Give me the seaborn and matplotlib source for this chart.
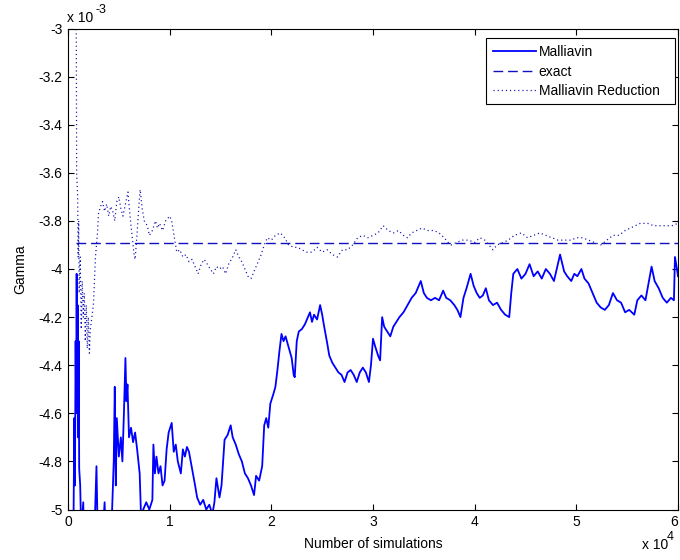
import matplotlib
matplotlib.use("Agg")
import matplotlib.pyplot as plt
from matplotlib.ticker import FuncFormatter
from matplotlib.patches import Rectangle
import seaborn as sns
import numpy as np

# ---------------- data (x in units of 1e4 simulations, y in units of 1e-3) -------------
mall_x = [0.01, 0.05, 0.062, 0.068, 0.075, 0.08, 0.085, 0.09, 0.095, 0.10, 0.105, 0.11, 0.12, 0.13,
          0.15, 0.16, 0.20, 0.26, 0.28, 0.29, 0.33, 0.36, 0.37, 0.43, 0.45, 0.46, 0.47, 0.48, 0.50,
          0.52, 0.535, 0.55, 0.565, 0.575, 0.585, 0.60, 0.62, 0.64, 0.66, 0.68, 0.705, 0.72, 0.74,
          0.77, 0.80, 0.83, 0.84, 0.855, 0.87, 0.89, 0.91, 0.93, 0.95, 0.97, 0.99, 1.02, 1.04, 1.06,
          1.08, 1.11, 1.13, 1.15, 1.17, 1.19, 1.22, 1.25, 1.27, 1.30, 1.33, 1.36, 1.39, 1.42, 1.44,
          1.46, 1.49, 1.51, 1.54, 1.57, 1.60, 1.62, 1.65, 1.68, 1.71, 1.74, 1.77, 1.80, 1.83, 1.85,
          1.88, 1.91, 1.93, 1.95, 1.97, 1.99, 2.02, 2.04, 2.06, 2.08, 2.10, 2.12, 2.14, 2.16, 2.18,
          2.20, 2.22, 2.23, 2.25, 2.27, 2.30, 2.33, 2.36, 2.38, 2.40, 2.42, 2.45, 2.48, 2.50, 2.52,
          2.55, 2.57, 2.60, 2.63, 2.66, 2.69, 2.72, 2.75, 2.78, 2.81, 2.84, 2.87, 2.90, 2.93, 2.96,
          2.98, 3.00, 3.02, 3.05, 3.07, 3.09, 3.11, 3.14, 3.17, 3.20, 3.23, 3.26, 3.30, 3.34, 3.38,
          3.42, 3.47, 3.50, 3.53, 3.57, 3.61, 3.65, 3.69, 3.72, 3.76, 3.80, 3.83, 3.86, 3.89, 3.92,
          3.96, 3.99, 4.02, 4.05, 4.08, 4.11, 4.14, 4.18, 4.22, 4.26, 4.30, 4.34, 4.36, 4.38, 4.42,
          4.46, 4.50, 4.54, 4.58, 4.62, 4.66, 4.70, 4.74, 4.78, 4.84, 4.88, 4.91, 4.95, 4.98, 5.01,
          5.05, 5.08, 5.12, 5.16, 5.20, 5.24, 5.28, 5.32, 5.36, 5.40, 5.44, 5.48, 5.52, 5.57, 5.60,
          5.64, 5.68, 5.71, 5.74, 5.77, 5.81, 5.85, 5.89, 5.93, 5.96, 5.97, 5.99, 6.00]
mall_y = [-5.6, -5.3, -4.62, -4.90, -4.30, -4.60, -4.02, -4.50, -4.15, -4.70, -4.30, -4.83, -4.90, -5.10,
          -4.97, -5.20, -5.30, -5.10, -4.82, -5.05, -5.20, -4.97, -5.10, -5.05, -4.80, -4.49, -4.90, -4.62, -4.78,
          -4.70, -4.80, -4.60, -4.37, -4.55, -4.48, -4.70, -4.66, -4.72, -4.68, -4.75, -4.85, -5.05, -5.00,
          -4.97, -5.00, -4.96, -4.73, -4.85, -4.78, -4.85, -4.82, -4.90, -4.88, -4.75, -4.68, -4.64, -4.76, -4.73,
          -4.80, -4.85, -4.75, -4.78, -4.74, -4.76, -4.83, -4.90, -4.95, -4.98, -4.96, -5.00, -4.98, -5.02, -4.97,
          -4.87, -4.95, -4.90, -4.71, -4.69, -4.65, -4.70, -4.73, -4.77, -4.80, -4.85, -4.87, -4.90, -4.94, -4.86,
          -4.88, -4.82, -4.65, -4.62, -4.66, -4.56, -4.52, -4.49, -4.42, -4.34, -4.27, -4.30, -4.28, -4.31, -4.34,
          -4.37, -4.44, -4.45, -4.30, -4.26, -4.25, -4.23, -4.20, -4.18, -4.22, -4.19, -4.21, -4.15, -4.19, -4.24,
          -4.31, -4.36, -4.39, -4.41, -4.43, -4.44, -4.47, -4.43, -4.42, -4.44, -4.47, -4.43, -4.41, -4.43, -4.47,
          -4.40, -4.29, -4.32, -4.36, -4.38, -4.20, -4.24, -4.26, -4.28, -4.24, -4.22, -4.20, -4.18, -4.15, -4.12,
          -4.10, -4.05, -4.10, -4.12, -4.13, -4.12, -4.13, -4.09, -4.12, -4.13, -4.15, -4.17, -4.20, -4.12, -4.08,
          -4.02, -4.07, -4.10, -4.12, -4.11, -4.08, -4.13, -4.15, -4.14, -4.17, -4.19, -4.20, -4.10, -4.02, -4.00,
          -4.04, -4.02, -3.98, -4.03, -4.01, -4.04, -4.00, -4.02, -4.05, -3.94, -4.01, -4.03, -4.05, -4.02, -4.03,
          -4.00, -4.04, -4.06, -4.10, -4.14, -4.16, -4.17, -4.15, -4.10, -4.13, -4.14, -4.18, -4.17, -4.19, -4.13,
          -4.11, -4.13, -4.06, -3.99, -4.05, -4.08, -4.12, -4.14, -4.12, -4.13, -3.95, -4.00, -4.03]

red_x = [0.075, 0.082, 0.085, 0.095, 0.10, 0.105, 0.11, 0.12, 0.13, 0.14, 0.15, 0.16, 0.17, 0.18, 0.19,
         0.20, 0.21, 0.22, 0.25, 0.27, 0.29, 0.30, 0.32, 0.34, 0.36, 0.38, 0.40, 0.42, 0.44, 0.46, 0.48,
         0.50, 0.52, 0.54, 0.56, 0.59, 0.61, 0.63, 0.65, 0.66, 0.68, 0.70, 0.71, 0.73, 0.75, 0.78, 0.80,
         0.83, 0.86, 0.88, 0.90, 0.93, 0.96, 1.00, 1.02, 1.05, 1.07, 1.10, 1.13, 1.16, 1.19, 1.22, 1.25,
         1.28, 1.31, 1.34, 1.37, 1.40, 1.43, 1.46, 1.49, 1.52, 1.55, 1.58, 1.62, 1.65, 1.68, 1.71, 1.74,
         1.77, 1.80, 1.83, 1.86, 1.90, 1.93, 1.96, 2.00, 2.04, 2.09, 2.13, 2.17, 2.22, 2.26, 2.30, 2.35,
         2.40, 2.45, 2.50, 2.55, 2.60, 2.65, 2.70, 2.75, 2.80, 2.85, 2.90, 2.95, 3.00, 3.05, 3.10, 3.15,
         3.20, 3.25, 3.30, 3.34, 3.38, 3.43, 3.48, 3.54, 3.60, 3.65, 3.70, 3.74, 3.77, 3.82, 3.88, 3.94,
         4.00, 4.05, 4.10, 4.14, 4.18, 4.22, 4.28, 4.33, 4.39, 4.46, 4.52, 4.58, 4.64, 4.70, 4.76, 4.82,
         4.88, 4.95, 5.00, 5.06, 5.12, 5.18, 5.24, 5.30, 5.36, 5.42, 5.48, 5.53, 5.58, 5.63, 5.70, 5.76,
         5.82, 5.88, 5.94, 6.00]
red_y = [-2.90, -3.05, -3.60, -3.70, -3.95, -3.80, -4.10, -3.95, -4.25, -4.05, -4.20, -4.10, -4.30, -4.15, -4.33,
         -4.20, -4.35, -4.25, -4.15, -3.95, -3.85, -3.77, -3.74, -3.72, -3.76, -3.73, -3.78, -3.74, -3.76, -3.80, -3.72,
         -3.70, -3.75, -3.78, -3.74, -3.68, -3.78, -3.86, -3.94, -3.96, -3.85, -3.72, -3.67, -3.75, -3.80, -3.82, -3.86,
         -3.84, -3.80, -3.83, -3.81, -3.84, -3.80, -3.78, -3.80, -3.88, -3.93, -3.92, -3.95, -3.94, -3.97, -3.96, -3.99,
         -4.02, -3.98, -3.96, -3.98, -4.00, -4.02, -3.99, -4.00, -3.99, -4.02, -3.98, -3.95, -3.92, -3.95, -3.97, -4.00,
         -4.03, -4.04, -4.01, -3.98, -3.94, -3.90, -3.87, -3.88, -3.86, -3.85, -3.87, -3.90, -3.91, -3.91, -3.92, -3.93,
         -3.93, -3.91, -3.93, -3.92, -3.94, -3.95, -3.92, -3.92, -3.90, -3.87, -3.86, -3.87, -3.86, -3.85, -3.82, -3.84,
         -3.85, -3.84, -3.86, -3.87, -3.85, -3.84, -3.83, -3.84, -3.84, -3.85, -3.87, -3.89, -3.90, -3.89, -3.88, -3.88,
         -3.89, -3.87, -3.88, -3.90, -3.92, -3.90, -3.89, -3.88, -3.86, -3.85, -3.87, -3.86, -3.85, -3.86, -3.87, -3.88,
         -3.88, -3.88, -3.87, -3.87, -3.88, -3.89, -3.90, -3.88, -3.86, -3.86, -3.84, -3.83, -3.82, -3.81, -3.81, -3.82,
         -3.82, -3.82, -3.82, -3.81]

exact_value = -3.89
exact_x = [0.08, 6.0]

series_labels = ["Malliavin", "exact", "Malliavin Reduction"]
x_ticks = [0, 1, 2, 3, 4, 5, 6]
y_ticks = [-3.0, -3.2, -3.4, -3.6, -3.8, -4.0, -4.2, -4.4, -4.6, -4.8, -5.0]
x_label = "Number of simulations"
y_label = "Gamma"
x_scale = 1e4
y_scale = 1e-3

# ---------------- plotting -------------
plt.rcParams['font.family'] = ['Liberation Sans', 'DejaVu Sans']
plt.rcParams['axes.unicode_minus'] = False

W, H = 680, 560
fig = plt.figure(figsize=(6.8, 5.6), dpi=100)
ax = fig.add_axes([68 / W, 1 - 509.5 / H, 610 / W, 481 / H])

blue = '#0000ff'
sns.lineplot(x=np.array(mall_x) * x_scale, y=np.array(mall_y) * y_scale, ax=ax,
             color=blue, linewidth=1.3, label=series_labels[0], estimator=None, sort=False)
sns.lineplot(x=np.array(exact_x) * x_scale, y=np.array([exact_value] * len(exact_x)) * y_scale, ax=ax,
             color='#1010c0', linewidth=1.0, label=series_labels[1], estimator=None, sort=False)
ax.lines[-1].set_dashes((7, 3.5))
sns.lineplot(x=np.array(red_x) * x_scale, y=np.array(red_y) * y_scale, ax=ax,
             color='#1010b0', linewidth=0.9, label=series_labels[2], estimator=None, sort=False)
ax.lines[-1].set_dashes((0.9, 2.4))

# legend box (MATLAB style: wider right padding)
ax.add_patch(Rectangle((486 / W, 1 - 104 / H), 189 / W, 66 / H, transform=fig.transFigure,
                       facecolor='white', edgecolor='black', linewidth=0.8, zorder=4,
                       clip_on=False))

ax.set_xlim(0, 6 * x_scale)
ax.set_ylim(-5 * y_scale, -3 * y_scale)
ax.set_xticks([t * x_scale for t in x_ticks])
ax.set_yticks([t * y_scale for t in y_ticks])
ax.xaxis.set_major_formatter(FuncFormatter(lambda v, p: f"{v / x_scale:g}"))
ax.yaxis.set_major_formatter(FuncFormatter(lambda v, p: f"{v / y_scale:g}"))

ax.tick_params(direction='in', length=4.5, width=0.8, top=True, right=True,
               labelsize=10, colors='black', pad=4)
for s in ax.spines.values():
    s.set_linewidth(0.8)
    s.set_color('black')

ax.set_xlabel(x_label, fontsize=10)
ax.xaxis.set_label_coords(0.5, -0.057)
ax.set_ylabel(y_label, fontsize=10)
ax.yaxis.set_label_coords(-0.066, 0.5)

# exponent annotations (MATLAB style)
fig.text(67 / W, 1 - 22 / H, "x 10", fontsize=10, ha='left', va='baseline')
fig.text(96 / W, 1 - 13 / H, "-3", fontsize=9, ha='left', va='baseline')
fig.text(642 / W, 1 - 549 / H, "x 10", fontsize=10, ha='left', va='baseline')
fig.text(667 / W, 1 - 540 / H, "4", fontsize=9, ha='left', va='baseline')

leg = ax.legend(loc='upper left', bbox_to_anchor=(486 / W, 1 - 38 / H),
                bbox_transform=fig.transFigure, frameon=False, fontsize=10,
                handlelength=3.1, handletextpad=0.2, labelspacing=0.4,
                borderpad=0.5, borderaxespad=0.0)
leg.set_zorder(5)

fig.canvas.draw()
last = ax.get_xticklabels()[-1]
last.set_horizontalalignment('right')

fig.savefig("out.png", dpi=100, facecolor='white')
